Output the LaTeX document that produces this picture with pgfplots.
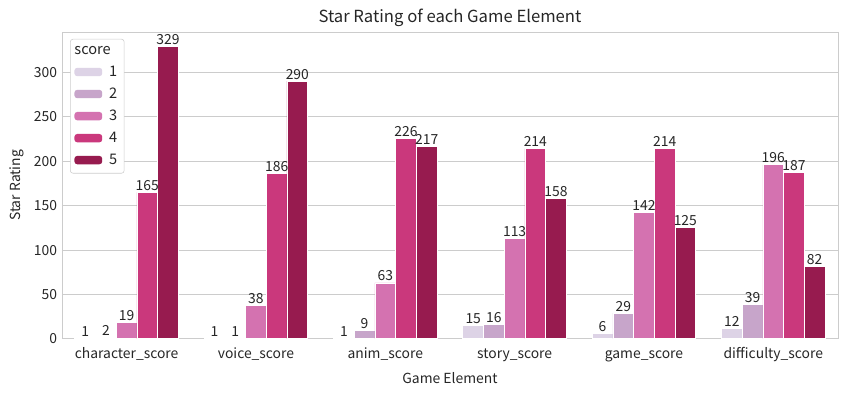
\documentclass[border=0pt]{standalone}
\usepackage{fontspec}
\setmainfont{Noto Sans CJK SC}
\usepackage{pgfplots}
\pgfplotsset{compat=1.18}
\definecolor{c1}{RGB}{221,211,230}
\definecolor{c2}{RGB}{199,165,202}
\definecolor{c3}{RGB}{212,114,176}
\definecolor{c4}{RGB}{202,56,124}
\definecolor{c5}{RGB}{151,27,79}
\definecolor{gridgray}{RGB}{204,204,204}
\definecolor{txt}{RGB}{38,38,38}
\begin{document}
\begin{tikzpicture}[x=1pt,y=1pt]
\useasboundingbox (-44.6,-38.9) rectangle (565.2,244.0);
\begin{axis}[
 at={(0,0)}, anchor=south west,
 scale only axis, width=558.7pt, height=221pt,
 xmin=-0.5, xmax=5.5, ymin=0, ymax=345.45,
 ybar, bar width=0.16,
 xtick={0,...,5},
 xticklabels={character\_score,voice\_score,anim\_score,story\_score,game\_score,difficulty\_score},
 ytick={0,50,...,300},
 ymajorgrids, grid style={draw=gridgray, line width=0.6pt},
 axis line style={draw=gridgray, line width=0.6pt},
 major tick length=0pt,
 tick label style={font=\fontsize{10}{12}\selectfont, text=txt},
 xticklabel style={text height=7pt, text depth=2pt, yshift=-3.5pt},
 /pgf/number format/assume math mode=true,
 xlabel={Game Element}, ylabel={Star Rating},
 xlabel style={yshift=-1.5pt},
 label style={font=\fontsize{10}{12}\selectfont, text=txt},
 title={Star Rating of each Game Element},
 title style={font=\fontsize{12}{14}\selectfont, text=txt, yshift=-6pt},
 nodes near coords,
 nodes near coords style={font=\fontsize{10}{12}\selectfont, text=txt, inner sep=1pt},
 every axis plot/.append style={draw=white, line width=0.6pt},
 legend style={at={(0,1)}, anchor=north west, xshift=5.8pt, yshift=-5pt,
   draw=gridgray, rounded corners=2pt, fill=white, inner sep=3pt,
   font=\fontsize{10.5}{12}\selectfont, text=txt, row sep=2.8pt, column sep=3pt},
 legend cell align=left,
 legend image code/.code={\fill[#1,draw=none] (0pt,-3pt) rectangle (20pt,3pt);},
]
\addlegendimage{empty legend}
\addlegendentry{\hspace*{-25pt}score}
\addplot[fill=c1, bar shift=-0.32] coordinates {(0,1) (1,1) (2,1) (3,15) (4,6) (5,12)};
\addlegendentry{1}
\addplot[fill=c2, bar shift=-0.16] coordinates {(0,2) (1,1) (2,9) (3,16) (4,29) (5,39)};
\addlegendentry{2}
\addplot[fill=c3, bar shift=0] coordinates {(0,19) (1,38) (2,63) (3,113) (4,142) (5,196)};
\addlegendentry{3}
\addplot[fill=c4, bar shift=0.16] coordinates {(0,165) (1,186) (2,226) (3,214) (4,214) (5,187)};
\addlegendentry{4}
\addplot[fill=c5, bar shift=0.32] coordinates {(0,329) (1,290) (2,217) (3,158) (4,125) (5,82)};
\addlegendentry{5}
\end{axis}
\end{tikzpicture}
\end{document}
